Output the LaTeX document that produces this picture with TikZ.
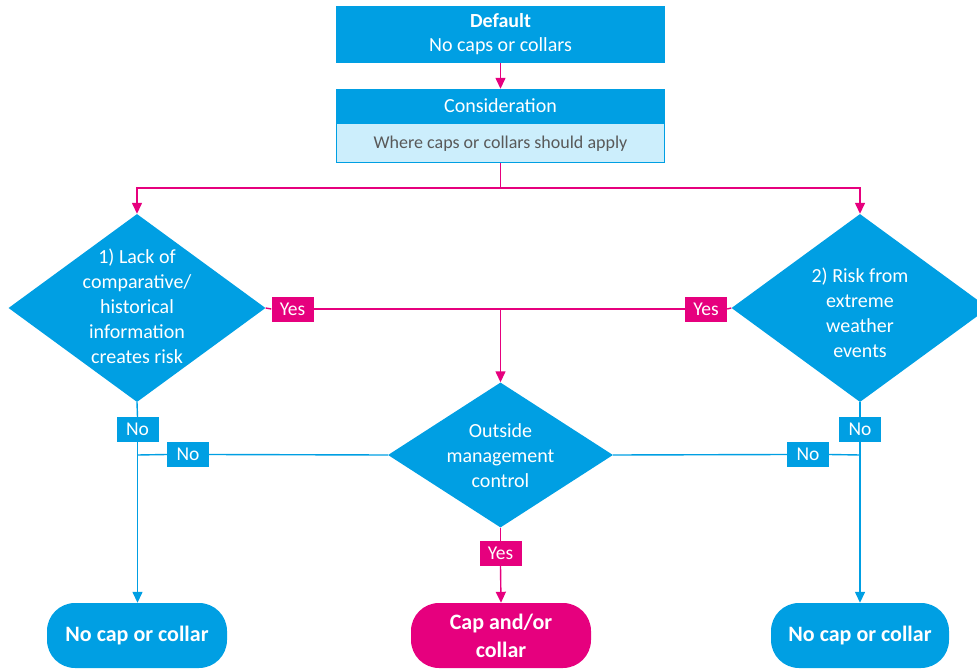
\documentclass[tikz,border=0pt]{standalone}
\usepackage{fontspec}
\setmainfont{Carlito}
\usetikzlibrary{shapes.geometric,arrows.meta}
\definecolor{cblue}{RGB}{0,159,227}
\definecolor{cmag}{RGB}{230,0,126}
\definecolor{clight}{RGB}{204,238,252}
\definecolor{cgrey}{RGB}{89,89,89}
\tikzset{
  bluebox/.style={rectangle, fill=cblue, text=white, inner sep=0pt, align=center, minimum width=329pt},
  dia/.style={diamond, fill=cblue, inner sep=0pt},
  dtext/.style={text=white, align=center, font=\fontsize{20}{25}\selectfont},
  yeslab/.style={rectangle, fill=cmag, text=white, inner sep=0pt, minimum width=42pt, minimum height=25pt, font=\fontsize{19.5}{22}\selectfont},
  nolab/.style={rectangle, fill=cblue, text=white, inner sep=0pt, minimum width=42pt, minimum height=25pt, font=\fontsize{19.5}{22}\selectfont},
  leaf/.style={rectangle, rounded corners=28pt, text=white, inner sep=0pt, minimum width=180pt, minimum height=65pt, align=center, font=\bfseries\fontsize{22}{28}\selectfont},
  tip/.style={-{Triangle[length=11pt,width=10pt]}},
  pline/.style={draw=cmag, line width=1.4pt},
  bline/.style={draw=cblue, line width=1.4pt},
}
\begin{document}
\begin{tikzpicture}[x=1pt,y=-1pt]
\useasboundingbox (0,0) rectangle (977,671);
% top boxes
\node[bluebox, minimum height=57pt, font=\fontsize{20}{24}\selectfont] (default) at (500.5,34.5) {\textbf{Default}\\No caps or collars};
\node[bluebox, minimum height=34pt, font=\fontsize{20}{24}\selectfont] (conshead) at (500.5,106) {Consideration};
\node[rectangle, fill=clight, draw=cblue, line width=1pt, minimum width=328pt, minimum height=39pt, inner sep=0pt, text=cgrey, font=\fontsize{18}{22}\selectfont, anchor=north] (consbody) at (500.5,123.5) {Where caps or collars should apply};
% diamonds
\node[dia, minimum width=257pt, minimum height=188pt] (d1) at (137,308) {};
\node[dtext] (t1) at (137,306.5) {1) Lack of\\comparative/\\historical\\information\\creates risk};
\node[dia, minimum width=257pt, minimum height=188pt] (d2) at (860,308) {};
\node[dtext] (t2) at (860,313) {2) Risk from\\extreme\\weather\\events};
\node[dia, minimum width=225pt, minimum height=145pt] (d3) at (500.5,455) {};
\node[dtext] (t3) at (500.5,455.5) {Outside\\management\\control};
% labels
\node[yeslab] (y1) at (292.5,309) {Yes};
\node[yeslab] (y2) at (706,309) {Yes};
\node[yeslab] (y3) at (500.5,553.5) {Yes};
\node[nolab] (n1) at (137.5,429.5) {No};
\node[nolab] (n2) at (188,454.5) {No};
\node[nolab] (n3) at (860,429.5) {No};
\node[nolab] (n4) at (808,454.5) {No};
% leaves
\node[leaf, fill=cblue] (l1) at (137,635.5) {No cap or collar};
\node[leaf, fill=cmag] (l2) at (501,635.5) {Cap and/or\\collar};
\node[leaf, fill=cblue, minimum width=178pt] (l3) at (860,635.5) {No cap or collar};
% coordinates
\coordinate (split) at (500.5,188);
\coordinate (jy) at (500.5,308.5);
\coordinate (jl) at (137.5,455);
\coordinate (jr) at (860,455);
% connectors magenta
\draw[pline, tip] (default.south) -- (conshead.north);
\draw[pline] (consbody.south) -- (split);
\draw[pline, tip] (split) -| (d1.north);
\draw[pline, tip] (split) -| (d2.north);
\draw[pline] (d1.east) -- (y1.west);
\draw[pline] (y1.east) -- (y2.west);
\draw[pline] (y2.east) -- (d2.west);
\draw[pline, tip] (jy) -- (d3.north);
\draw[pline] (d3.south) -- (y3.north);
\draw[pline, tip] (y3.south) -- (l2.north);
% connectors blue
\draw[bline] (d1.south) -- (n1.north);
\draw[bline, tip] (n1.south) -- (l1.north -| n1.south);
\draw[bline] (jl) -- (n2.west);
\draw[bline] (n2.east) -- (d3.west);
\draw[bline] (d2.south) -- (n3.north);
\draw[bline, tip] (n3.south) -- (l3.north);
\draw[bline] (jr) -- (n4.east);
\draw[bline] (n4.west) -- (d3.east);
\end{tikzpicture}
\end{document}
